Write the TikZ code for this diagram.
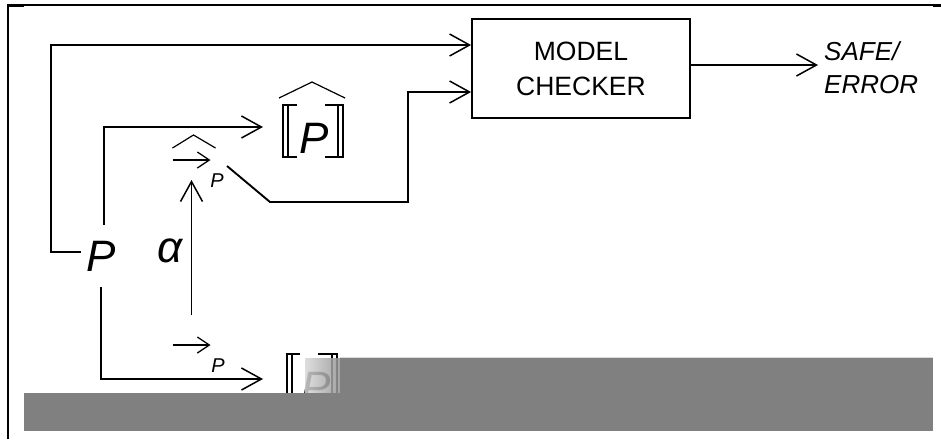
\documentclass[tikz,border=0pt]{standalone}
\usepackage{fontspec}
\setmainfont{Liberation Sans}
\usetikzlibrary{arrows.meta,calc}
\begin{document}
\begin{tikzpicture}[x=1pt,y=-1pt,
  wire/.style={line width=1.9pt},
  barb/.style={-{Straight Barb[length=20pt,width=22pt,line width=1.5pt]}},
  smallbarb/.style={-{Straight Barb[length=12pt,width=16pt,line width=1.3pt]}},
  sym/.style={inner sep=0pt,font=\fontsize{44}{44}\selectfont\itshape},
  subp/.style={inner sep=0pt,font=\fontsize{20}{20}\selectfont\itshape},
  holder/.style={inner sep=0pt,outer sep=0pt},
  brk/.style={line width=1.5pt},
  hatline/.style={line width=1.2pt},
  frame/.style={line width=2pt},
]
\useasboundingbox (0,0) rectangle (941,440);
\fill[white] (0,0) rectangle (941,440);

% nodes
\node[sym, inner xsep=5pt, inner ysep=16pt] (P) at (101,256) {P};
\node[sym] (al) at (170,251) {α};
\node[holder, minimum width=38pt, minimum height=16pt] (A1) at (191.5,160) {};
\node[subp] (p1) at (217,181) {P};
\node[holder, minimum width=38pt, minimum height=16pt] (A2) at (191.5,345) {};
\node[subp] (p2) at (218,366) {P};
\node[holder, minimum width=60pt, minimum height=52pt] (PP) at (313,131) {};
\node[sym] (PPt) at (314,138) {P};
\node[holder, minimum width=50pt, minimum height=52pt] (PB) at (312,380) {};
\node[sym] (PBt) at (316,387) {P};
\node[draw, line width=1.8pt, minimum width=218pt, minimum height=99pt, align=center,
      inner sep=0pt, font=\fontsize{26.5}{35}\selectfont] (MC) at (581,68.5) {MODEL\\CHECKER};
\node[anchor=north west, align=left, inner sep=0pt,
      font=\fontsize{26}{33}\selectfont\itshape] (out) at (824,41) {SAFE/\\ERROR};

% small arrow symbols
\draw[line width=1.4pt, smallbarb] (A1.west) -- (A1.east);
\draw[line width=1.4pt, smallbarb] (A2.west) -- (A2.east);
\draw[hatline] ($(A1.center)+(-19,-12)$) -- ($(A1.center)+(2,-25)$) -- ($(A1.center)+(24,-12)$);

% brackets (upper)
\draw[brk] ($(PP.north west)+(14,0)$) -- (PP.north west) -- (PP.south west) -- ++(14,0);
\draw[brk] ($(PP.north west)+(5,0)$) -- ($(PP.south west)+(5,0)$);
\draw[brk] ($(PP.north east)+(-18,0)$) -- (PP.north east) -- (PP.south east) -- ++(-18,0);
\draw[brk] ($(PP.north east)+(-5,0)$) -- ($(PP.south east)+(-5,0)$);
\draw[hatline] ($(PP.center)+(-34,-33)$) -- ($(PP.center)+(-1,-49)$) -- ($(PP.center)+(32,-33)$);

% brackets (lower)
\draw[brk] ($(PB.north west)+(13,0)$) -- (PB.north west) -- (PB.south west);
\draw[brk] ($(PB.north west)+(5,0)$) -- ($(PB.south west)+(5,0)$);
\draw[brk] ($(PB.north east)+(-19,0)$) -- (PB.north east) -- (PB.south east);
\draw[brk] ($(PB.north east)+(-5,0)$) -- ($(PB.south east)+(-5,0)$);

% connectors
\coordinate (c1) at (51,45);
\draw[wire,barb] ([yshift=4pt]P.west) -| (c1) -- (c1 -| MC.west);
\draw[wire,barb] ([xshift=3pt]P.north) |- ($(PP.west)+(-20,-4)$);
\coordinate (d1) at (227,166);
\coordinate (d2) at (270,202);
\coordinate (d3) at (408,92);
\draw[wire,barb] (d1) -- (d2) -| (d3) -- (d3 -| MC.west);
\draw[wire,barb,shorten <=22pt,shorten >=12pt] (A2.north) -- (A1.south);
\draw[wire,barb] (P.south) |- ($(PB.west)+(-24,-1)$);
\coordinate (o) at (818,65);
\draw[wire,barb] (MC.east |- o) -- (o);

% overlays
\shade[left color=gray!30, right color=gray!85, opacity=0.85] (305,358) rectangle (340,393);
\fill[gray] (340,358) rectangle (933,393);
\fill[gray] (24,393) rectangle (933,431);
\draw[gray!30, line width=1pt] (340,357.5) -- (933,357.5);

% frame
\draw[frame] (7.5,439) -- (7.5,4.5) -- (933,4.5);
\draw[line width=3pt] (7,5) -- (24,5);
\draw[line width=3pt] (933,5.5) -- (941,5.5);
\end{tikzpicture}
\end{document}
